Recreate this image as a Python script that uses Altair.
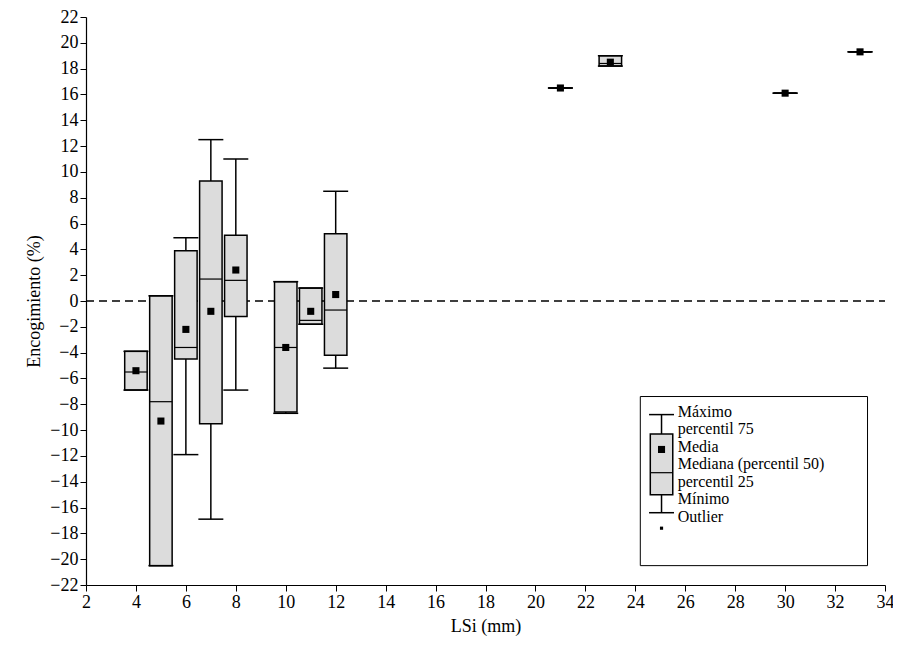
import altair as alt
import pandas as pd

FONT = "Liberation Serif"
TICK_FONT = "Times New Roman, Liberation Serif, serif"

lsi = [4, 5, 6, 7, 8, 10, 11, 12, 21, 23, 30, 33]
q1 = [-6.9, -20.5, -4.5, -9.5, -1.2, -8.6, -1.8, -4.2, 16.5, 18.2, 16.1, 19.3]
q3 = [-3.9, 0.4, 3.9, 9.3, 5.1, 1.5, 1.0, 5.2, 16.5, 19.0, 16.1, 19.3]
median = [-5.5, -7.8, -3.6, 1.7, 1.6, -3.6, -1.5, -0.7, 16.5, 18.4, 16.1, 19.3]
mean = [-5.4, -9.3, -2.2, -0.8, 2.4, -3.6, -0.8, 0.5, 16.5, 18.5, 16.1, 19.3]
vmin = [-6.9, -20.5, -11.9, -16.9, -6.9, -8.7, -1.8, -5.2, 16.5, 18.2, 16.1, 19.3]
vmax = [-3.9, 0.4, 4.9, 12.5, 11.0, 1.5, 1.0, 8.5, 16.5, 19.0, 16.1, 19.3]

legend_labels = ["Máximo", "percentil 75", "Media", "Mediana (percentil 50)",
                 "percentil 25", "Mínimo", "Outlier"]
legend_label_y = [-8.6, -9.9, -11.3, -12.6, -14.0, -15.3, -16.7]

df = pd.DataFrame({"x": lsi, "q1": q1, "q3": q3, "med": median, "mean": mean,
                   "lo": vmin, "hi": vmax})
df["xl"] = df["x"] - 0.45
df["xr"] = df["x"] + 0.45
df["cl"] = df["x"] - 0.5
df["cr"] = df["x"] + 0.5

xs = alt.Scale(domain=[2, 34], nice=False, zero=False)
ys = alt.Scale(domain=[-22, 22], nice=False)
axis_style = dict(grid=False, labelFlush=False, labelOverlap=False,
                  labelFont=TICK_FONT, titleFont=FONT, labelFontSize=18, titleFontSize=18,
                  titleFontWeight="normal", domainColor="black", tickColor="black",
                  labelColor="black", titleColor="black", tickSize=6, domainWidth=1.2,
                  labelPadding=2, titlePadding=6)
xax = alt.Axis(values=list(range(2, 35, 2)), **axis_style)
yax = alt.Axis(values=list(range(-22, 23, 2)), **axis_style)


def ex(field):
    return alt.X(field, scale=xs, axis=xax, title="LSi (mm)")


def ey(field):
    return alt.Y(field, scale=ys, axis=yax, title="Encogimiento (%)")


zero = alt.Chart(pd.DataFrame({"y": [0], "x0": [2], "x1": [34]})).mark_rule(
    color="black", strokeDash=[8, 5], strokeWidth=1.5).encode(
    x=ex("x0:Q"), x2="x1:Q", y=ey("y:Q"))

base = alt.Chart(df)
whisk = base.mark_rule(color="black", strokeWidth=1.5).encode(
    x=ex("x:Q"), y=ey("lo:Q"), y2="hi:Q")
boxes = base.mark_rect(fill="#dcdcdc", stroke="black", strokeWidth=1.5).encode(
    x=ex("xl:Q"), x2="xr:Q", y=ey("q1:Q"), y2="q3:Q")
caps_hi = base.mark_rule(color="black", strokeWidth=1.5).encode(
    x=ex("cl:Q"), x2="cr:Q", y=ey("hi:Q"))
caps_lo = base.mark_rule(color="black", strokeWidth=1.5).encode(
    x=ex("cl:Q"), x2="cr:Q", y=ey("lo:Q"))
meds = base.mark_rule(color="black", strokeWidth=1.2).encode(
    x=ex("xl:Q"), x2="xr:Q", y=ey("med:Q"))
means = base.mark_square(color="black", opacity=1, size=50).encode(
    x=ex("x:Q"), y=ey("mean:Q"))

# legend built in data coordinates
lg = pd.DataFrame({"x0": [24.2], "x1": [33.3], "y0": [-7.4], "y1": [-20.5]})
frame = alt.Chart(lg).mark_rect(fill="white", stroke="black", strokeWidth=1).encode(
    x=ex("x0:Q"), x2="x1:Q", y=ey("y0:Q"), y2="y1:Q")
gl = pd.DataFrame({"x": [25.05], "xl": [24.6], "xr": [25.5], "cl": [24.55], "cr": [25.55],
                   "lo": [-16.4], "hi": [-8.8], "q1": [-15.0], "q3": [-10.3],
                   "med": [-13.3], "mean": [-11.5], "out": [-17.6]})
gb = alt.Chart(gl)
g_wh = gb.mark_rule(color="black", strokeWidth=1.5).encode(
    x=ex("x:Q"), y=ey("lo:Q"), y2="hi:Q")
g_box = gb.mark_rect(fill="#dcdcdc", stroke="black", strokeWidth=1.5).encode(
    x=ex("xl:Q"), x2="xr:Q", y=ey("q1:Q"), y2="q3:Q")
g_hi = gb.mark_rule(color="black", strokeWidth=1.5).encode(
    x=ex("cl:Q"), x2="cr:Q", y=ey("hi:Q"))
g_lo = gb.mark_rule(color="black", strokeWidth=1.5).encode(
    x=ex("cl:Q"), x2="cr:Q", y=ey("lo:Q"))
g_med = gb.mark_rule(color="black", strokeWidth=1.2).encode(
    x=ex("xl:Q"), x2="xr:Q", y=ey("med:Q"))
g_mean = gb.mark_square(color="black", opacity=1, size=50).encode(
    x=ex("x:Q"), y=ey("mean:Q"))
g_out = gb.mark_square(color="black", opacity=1, size=10).encode(
    x=ex("x:Q"), y=ey("out:Q"))
lt = pd.DataFrame({"label": legend_labels, "y": legend_label_y, "x": [25.7] * 7})
g_txt = alt.Chart(lt).mark_text(align="left", baseline="middle", font=FONT,
                                fontSize=16, color="black").encode(
    x=ex("x:Q"), y=ey("y:Q"), text="label:N")

chart = alt.layer(
    zero, whisk, boxes, caps_hi, caps_lo, meds, means,
    frame, g_wh, g_box, g_hi, g_lo, g_med, g_mean, g_out, g_txt,
).properties(
    width=799, height=568,
    autosize=alt.AutoSizeParams(type="none"),
    padding={"left": 78, "top": 9, "right": 8, "bottom": 60},
).configure_view(stroke=None).configure_axis(
    labelFont=TICK_FONT, titleFont=FONT, labelFontSize=18, titleFontSize=18,
    titleFontWeight="normal", labelColor="black", titleColor="black",
)

chart.save("out.html", embed_options={"renderer": "svg", "actions": False})
